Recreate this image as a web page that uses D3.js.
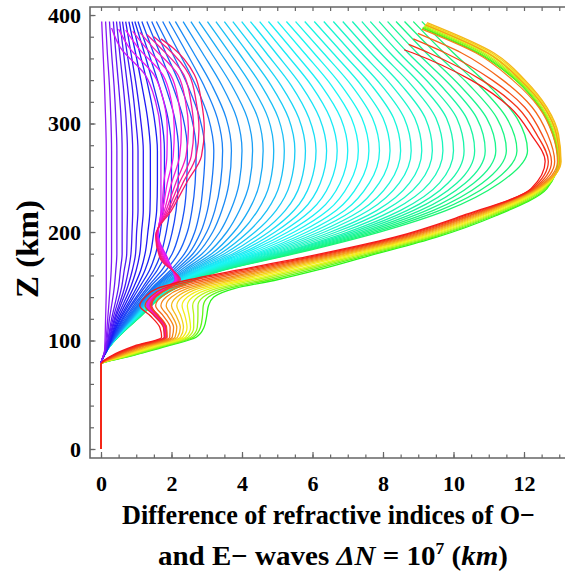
<!DOCTYPE html>
<html>
<head>
<meta charset="utf-8">
<script src="https://cdn.jsdelivr.net/npm/d3@7"></script>
<style>
	body { margin: 0; background: #fff; }
	svg { display: block; }
</style>
</head>
<body>
<svg id="chart" width="565" height="574"></svg>
<script>

// every profile shares the same stem below the E layer
var stemZ = [0, 78];
var stemX = [0, 0];

// night-side profiles (green .. violet), x read at coldZ
var coldZ = [90, 120, 150, 165, 180, 200, 220, 245, 275, 305, 335, 365, 394];
var coldPhase = [0.400, 0.407, 0.414, 0.421, 0.429, 0.436, 0.443, 0.450, 0.456, 0.462,
	0.468, 0.474, 0.480, 0.486, 0.491, 0.496, 0.500, 0.505, 0.509, 0.514,
	0.518, 0.525, 0.533, 0.541, 0.549, 0.557, 0.565, 0.573, 0.581, 0.588,
	0.595, 0.602, 0.612, 0.622, 0.632, 0.640, 0.650, 0.660, 0.670, 0.680,
	0.690, 0.700, 0.710, 0.720, 0.733, 0.747, 0.760];
var coldX = [
	[0.15, 1.05, 2.25, 3.5, 5.5, 7.9, 9.8, 11.3, 12.1, 11.8, 11.0, 10.0, 9.1],
	[0.15, 1.04, 2.24, 3.47, 5.43, 7.77, 9.61, 11.06, 11.8, 11.51, 10.73, 9.74, 8.86],
	[0.15, 1.04, 2.22, 3.44, 5.36, 7.64, 9.43, 10.81, 11.5, 11.23, 10.46, 9.49, 8.61],
	[0.15, 1.03, 2.21, 3.41, 5.29, 7.51, 9.24, 10.57, 11.2, 10.94, 10.18, 9.23, 8.37],
	[0.15, 1.02, 2.19, 3.39, 5.21, 7.39, 9.06, 10.33, 10.9, 10.66, 9.92, 8.97, 8.13],
	[0.15, 1.01, 2.18, 3.36, 5.14, 7.26, 8.87, 10.09, 10.6, 10.37, 9.64, 8.71, 7.89],
	[0.15, 1.01, 2.16, 3.33, 5.07, 7.13, 8.69, 9.84, 10.3, 10.09, 9.37, 8.46, 7.64],
	[0.15, 1.0, 2.15, 3.3, 5.0, 7.0, 8.5, 9.6, 10.0, 9.8, 9.1, 8.2, 7.4],
	[0.15, 0.99, 2.13, 3.26, 4.91, 6.84, 8.28, 9.32, 9.7, 9.5, 8.82, 7.93, 7.13],
	[0.15, 0.99, 2.11, 3.21, 4.82, 6.67, 8.05, 9.03, 9.4, 9.2, 8.53, 7.66, 6.86],
	[0.15, 0.98, 2.08, 3.17, 4.73, 6.51, 7.83, 8.75, 9.1, 8.9, 8.25, 7.39, 6.59],
	[0.15, 0.97, 2.06, 3.12, 4.64, 6.34, 7.6, 8.46, 8.8, 8.6, 7.96, 7.12, 6.32],
	[0.15, 0.96, 2.04, 3.08, 4.55, 6.18, 7.38, 8.18, 8.5, 8.3, 7.68, 6.85, 6.05],
	[0.15, 0.96, 2.02, 3.03, 4.46, 6.01, 7.15, 7.89, 8.2, 8.0, 7.39, 6.58, 5.78],
	[0.15, 0.95, 1.99, 2.99, 4.37, 5.84, 6.92, 7.61, 7.9, 7.7, 7.11, 6.31, 5.52],
	[0.15, 0.94, 1.97, 2.94, 4.26, 5.66, 6.68, 7.33, 7.6, 7.4, 6.82, 6.04, 5.26],
	[0.15, 0.93, 1.95, 2.9, 4.16, 5.48, 6.44, 7.05, 7.3, 7.1, 6.54, 5.77, 5.01],
	[0.15, 0.93, 1.93, 2.85, 4.05, 5.3, 6.2, 6.78, 7.0, 6.8, 6.25, 5.5, 4.75],
	[0.15, 0.92, 1.9, 2.81, 3.95, 5.12, 5.96, 6.5, 6.7, 6.5, 5.97, 5.23, 4.5],
	[0.15, 0.91, 1.88, 2.76, 3.84, 4.94, 5.72, 6.22, 6.4, 6.2, 5.68, 4.96, 4.24],
	[0.15, 0.9, 1.86, 2.72, 3.74, 4.76, 5.48, 5.94, 6.1, 5.9, 5.4, 4.69, 3.99],
	[0.15, 0.89, 1.83, 2.66, 3.62, 4.57, 5.23, 5.66, 5.8, 5.61, 5.11, 4.43, 3.74],
	[0.15, 0.88, 1.8, 2.6, 3.5, 4.37, 4.97, 5.37, 5.5, 5.32, 4.83, 4.17, 3.5],
	[0.15, 0.87, 1.77, 2.54, 3.38, 4.17, 4.71, 5.08, 5.2, 5.03, 4.55, 3.91, 3.26],
	[0.15, 0.86, 1.74, 2.48, 3.26, 3.97, 4.45, 4.79, 4.9, 4.74, 4.27, 3.65, 3.02],
	[0.15, 0.85, 1.71, 2.42, 3.14, 3.77, 4.19, 4.5, 4.6, 4.45, 3.99, 3.39, 2.78],
	[0.15, 0.84, 1.67, 2.35, 3.01, 3.57, 3.93, 4.21, 4.3, 4.15, 3.71, 3.13, 2.55],
	[0.15, 0.82, 1.63, 2.27, 2.87, 3.37, 3.68, 3.92, 4.0, 3.85, 3.43, 2.88, 2.33],
	[0.15, 0.8, 1.59, 2.19, 2.73, 3.17, 3.43, 3.63, 3.7, 3.55, 3.15, 2.63, 2.11],
	[0.15, 0.78, 1.56, 2.12, 2.61, 3.0, 3.23, 3.39, 3.45, 3.3, 2.92, 2.43, 1.93],
	[0.15, 0.76, 1.53, 2.05, 2.49, 2.83, 3.02, 3.14, 3.2, 3.05, 2.69, 2.22, 1.75],
	[0.15, 0.74, 1.49, 1.98, 2.37, 2.66, 2.81, 2.9, 2.95, 2.8, 2.46, 2.02, 1.57],
	[0.15, 0.71, 1.41, 1.85, 2.19, 2.45, 2.58, 2.67, 2.7, 2.57, 2.25, 1.84, 1.44],
	[0.15, 0.67, 1.34, 1.73, 2.02, 2.23, 2.36, 2.43, 2.45, 2.33, 2.03, 1.67, 1.3],
	[0.15, 0.63, 1.26, 1.6, 1.84, 2.02, 2.13, 2.19, 2.2, 2.09, 1.82, 1.49, 1.16],
	[0.15, 0.6, 1.2, 1.5, 1.7, 1.85, 1.95, 2.0, 2.0, 1.9, 1.65, 1.35, 1.05],
	[0.15, 0.56, 1.11, 1.38, 1.55, 1.68, 1.76, 1.8, 1.8, 1.71, 1.49, 1.23, 0.96],
	[0.15, 0.53, 1.03, 1.25, 1.4, 1.5, 1.58, 1.6, 1.6, 1.51, 1.33, 1.1, 0.88],
	[0.15, 0.49, 0.94, 1.13, 1.25, 1.33, 1.39, 1.4, 1.4, 1.32, 1.16, 0.98, 0.79],
	[0.15, 0.45, 0.85, 1.0, 1.1, 1.15, 1.2, 1.2, 1.2, 1.12, 1.0, 0.85, 0.7],
	[0.14, 0.41, 0.76, 0.89, 0.98, 1.01, 1.05, 1.05, 1.05, 0.98, 0.88, 0.74, 0.61],
	[0.13, 0.38, 0.68, 0.78, 0.85, 0.88, 0.9, 0.9, 0.9, 0.85, 0.75, 0.64, 0.53],
	[0.12, 0.34, 0.59, 0.66, 0.73, 0.74, 0.75, 0.75, 0.75, 0.71, 0.63, 0.53, 0.44],
	[0.12, 0.3, 0.5, 0.55, 0.6, 0.6, 0.6, 0.6, 0.6, 0.57, 0.5, 0.42, 0.35],
	[0.11, 0.24, 0.38, 0.42, 0.45, 0.45, 0.45, 0.45, 0.45, 0.42, 0.37, 0.3, 0.24],
	[0.1, 0.19, 0.26, 0.29, 0.3, 0.3, 0.3, 0.3, 0.3, 0.28, 0.24, 0.18, 0.13],
	[0.1, 0.13, 0.15, 0.15, 0.15, 0.15, 0.15, 0.15, 0.15, 0.13, 0.1, 0.06, 0.02]
];

// sunrise profiles (magenta): S below, bulge near 2-3 above
var magentaZ = [86, 95, 103, 112, 123, 132, 140, 148, 156, 175, 197, 220, 245, 270, 295, 320, 345, 370];
var magentaPhase = [0.80, 0.82, 0.84, 0.86, 0.88, 0.90, 0.92, 0.94];
var magentaX = [
	[0.34, 1.03, 1.8, 1.78, 1.5, 1.3, 1.42, 1.8, 2.1, 1.9, 1.62, 1.7, 1.7, 1.7, 1.68, 1.55, 1.25, 0.55],
	[0.35, 1.04, 1.81, 1.79, 1.52, 1.32, 1.44, 1.81, 2.12, 1.87, 1.61, 1.72, 1.78, 1.87, 1.88, 1.78, 1.5, 0.8],
	[0.35, 1.05, 1.82, 1.8, 1.54, 1.34, 1.46, 1.83, 2.14, 1.84, 1.6, 1.75, 1.88, 2.05, 2.08, 2.0, 1.75, 1.05],
	[0.36, 1.06, 1.83, 1.81, 1.55, 1.36, 1.48, 1.84, 2.16, 1.81, 1.59, 1.8, 2.0, 2.23, 2.28, 2.2, 1.97, 1.27],
	[0.36, 1.07, 1.84, 1.82, 1.57, 1.38, 1.5, 1.85, 2.18, 1.78, 1.58, 1.85, 2.12, 2.41, 2.48, 2.4, 2.18, 1.48],
	[0.37, 1.08, 1.85, 1.83, 1.58, 1.4, 1.51, 1.87, 2.2, 1.75, 1.57, 1.9, 2.22, 2.56, 2.63, 2.55, 2.35, 1.68],
	[0.37, 1.09, 1.86, 1.84, 1.6, 1.42, 1.53, 1.88, 2.22, 1.72, 1.56, 1.95, 2.32, 2.7, 2.78, 2.7, 2.5, 1.86],
	[0.38, 1.1, 1.87, 1.85, 1.62, 1.44, 1.55, 1.9, 2.25, 1.69, 1.55, 2.0, 2.42, 2.85, 2.93, 2.85, 2.65, 2.03]
];
var magentaTopZ = [388, 387, 386, 385, 384, 382, 380, 378];
var magentaTopX = [0.3, 0.5, 0.7, 0.9, 1.1, 1.3, 1.5, 1.7];

// day-side profiles (red .. green), the outer band
var warmZ = [86, 95, 103, 112, 123, 132, 140, 148, 156, 165, 178, 195, 215, 240, 265, 290, 315, 340, 365];
var warmPhase = [0.00, 0.02, 0.04, 0.06, 0.08, 0.10, 0.12, 0.14, 0.16, 0.18, 0.21, 0.24, 0.28, 0.32];
var warmX = [
	[0.3, 0.95, 1.72, 1.67, 1.39, 1.1, 1.25, 1.6, 2.5, 3.9, 5.95, 8.3, 10.25, 12.2, 12.6, 12.2, 11.6, 10.5, 8.85],
	[0.35, 1.02, 1.8, 1.77, 1.51, 1.25, 1.4, 1.77, 2.69, 4.07, 6.08, 8.39, 10.32, 12.23, 12.69, 12.36, 11.81, 10.8, 9.31],
	[0.39, 1.1, 1.87, 1.86, 1.64, 1.4, 1.55, 1.94, 2.88, 4.25, 6.2, 8.48, 10.4, 12.27, 12.78, 12.51, 12.02, 11.1, 9.77],
	[0.44, 1.17, 1.95, 1.96, 1.76, 1.55, 1.7, 2.11, 3.08, 4.42, 6.33, 8.58, 10.47, 12.3, 12.87, 12.67, 12.23, 11.4, 10.23],
	[0.48, 1.24, 2.02, 2.06, 1.89, 1.7, 1.85, 2.28, 3.27, 4.59, 6.46, 8.67, 10.54, 12.34, 12.95, 12.81, 12.42, 11.68, 10.64],
	[0.53, 1.32, 2.1, 2.15, 2.01, 1.85, 2.0, 2.45, 3.46, 4.77, 6.59, 8.76, 10.62, 12.37, 13.01, 12.92, 12.57, 11.9, 10.97],
	[0.58, 1.39, 2.17, 2.25, 2.13, 2.0, 2.15, 2.62, 3.65, 4.94, 6.71, 8.85, 10.69, 12.41, 13.05, 12.98, 12.65, 12.03, 11.15],
	[0.62, 1.46, 2.25, 2.34, 2.26, 2.15, 2.3, 2.78, 3.85, 5.11, 6.84, 8.95, 10.76, 12.44, 13.04, 12.96, 12.62, 11.99, 11.08],
	[0.67, 1.53, 2.32, 2.44, 2.38, 2.3, 2.45, 2.95, 4.04, 5.28, 6.97, 9.04, 10.83, 12.48, 13.02, 12.93, 12.59, 11.95, 11.01],
	[0.72, 1.61, 2.4, 2.54, 2.5, 2.45, 2.6, 3.12, 4.23, 5.46, 7.09, 9.13, 10.91, 12.51, 13.01, 12.91, 12.56, 11.91, 10.94],
	[0.76, 1.68, 2.47, 2.63, 2.63, 2.6, 2.75, 3.29, 4.42, 5.63, 7.22, 9.22, 10.98, 12.55, 13.0, 12.89, 12.52, 11.87, 10.87],
	[0.81, 1.75, 2.55, 2.73, 2.75, 2.75, 2.9, 3.46, 4.62, 5.8, 7.35, 9.32, 11.05, 12.58, 12.98, 12.86, 12.49, 11.83, 10.81],
	[0.85, 1.83, 2.62, 2.82, 2.88, 2.9, 3.05, 3.63, 4.81, 5.98, 7.47, 9.41, 11.13, 12.62, 12.97, 12.84, 12.46, 11.79, 10.74],
	[0.9, 1.9, 2.7, 2.92, 3.0, 3.05, 3.2, 3.8, 5.0, 6.15, 7.6, 9.5, 11.2, 12.65, 12.96, 12.82, 12.44, 11.76, 10.69]
];
// upper ends sit on the slanted edge from (8.6, 368) to (9.25, 393)
var warmTopZ = [368, 373, 378, 383, 387, 391, 393, 392, 391.5, 391, 390, 389, 388.5, 388];
var warmTopX = [8.6, 8.73, 8.86, 8.99, 9.1, 9.2, 9.25, 9.23, 9.21, 9.19, 9.17, 9.15, 9.13, 9.12];

var xTicks = [0, 2, 4, 6, 8, 10, 12];
var yTicks = [0, 100, 200, 300, 400];


function BuildProfiles(aZ, aRows, aPhase, aTopZ, aTopX)
{
	return aRows.map(function(aRow, i)
		{
			var aPoints = [];
			stemZ.forEach(function(z, k) { aPoints.push([stemX[k], z]); });
			aRow.forEach(function(x, k) { aPoints.push([x, aZ[k]]); });
			if (aTopZ != null)
			{
				aPoints.push([aTopX[i], aTopZ[i]]);
			}
			// top first, so screen y grows along the path
			aPoints.reverse();
			return {phase: aPhase[i], points: aPoints};
		});
}


var sSvg = d3.select('#chart');
const strFont = '"Liberation Serif", "Times New Roman", serif';

var nFrameLeft = 90;
var nFrameRight = 566.3;
var nFrameTop = 7;
var nFrameBottom = 458;

var scaleX = d3.scaleLinear()
	.domain([-0.312, 13.2])
	.range([nFrameLeft, nFrameRight]);

var scaleY = d3.scaleLinear()
	.domain([-8.3, 407.4])
	.range([nFrameBottom, nFrameTop]);

var scaleHue = d3.scaleLinear()
	.domain([0, 1])
	.range([0, 360]);

var lineProfile = d3.line()
	.x(function(p) { return scaleX(p[0]); })
	.y(function(p) { return scaleY(p[1]); })
	.curve(d3.curveMonotoneY);

var aCold = BuildProfiles(coldZ, coldX, coldPhase, null, null);
var aMagenta = BuildProfiles(magentaZ, magentaX, magentaPhase, magentaTopZ, magentaTopX);
var aWarm = BuildProfiles(warmZ, warmX, warmPhase, warmTopZ, warmTopX).reverse();

var aProfiles = aCold.concat(aMagenta).concat(aWarm);

sSvg.append('rect')
	.attr('width', 565)
	.attr('height', 574)
	.attr('fill', '#fff');

sSvg.append('g')
	.attr('class', 'profiles')
	.selectAll('path')
	.data(aProfiles)
	.enter()
		.append('path')
			.attr('d', function(row) { return lineProfile(row.points); })
			.attr('fill', 'none')
			.attr('stroke', function(row) { return d3.hsl(scaleHue(row.phase), 0.92, 0.53).toString(); })
			.attr('stroke-width', 1.3)
			.attr('stroke-linejoin', 'round');


// frame and ticks
var aMinorX = d3.range(0, 13.01, 0.5);
var aMinorY = d3.range(0, 401, 20);

function StyleAxis(sAxis)
{
	sAxis.select('.domain').remove();
	sAxis.selectAll('line').attr('stroke', '#666').attr('stroke-width', 1.2);
	sAxis.attr('font-family', strFont)
		.attr('font-size', 22)
		.attr('font-weight', 'bold')
		.selectAll('text').attr('fill', '#000');
}

sSvg.append('g')
	.attr('transform', 'translate(0,' + nFrameBottom + ')')
	.call(d3.axisBottom(scaleX).tickValues(aMinorX).tickSize(-3.5).tickFormat(''))
	.call(StyleAxis);

sSvg.append('g')
	.attr('transform', 'translate(0,' + nFrameBottom + ')')
	.call(d3.axisBottom(scaleX).tickValues(xTicks).tickSize(-6).tickPadding(17).tickFormat(d3.format('d')))
	.call(StyleAxis);

sSvg.append('g')
	.attr('transform', 'translate(0,' + nFrameTop + ')')
	.call(d3.axisTop(scaleX).tickValues(aMinorX).tickSize(-4).tickFormat(''))
	.call(StyleAxis);

sSvg.append('g')
	.attr('transform', 'translate(' + nFrameLeft + ',0)')
	.call(d3.axisLeft(scaleY).tickValues(aMinorY).tickSize(-4).tickFormat(''))
	.call(StyleAxis);

sSvg.append('g')
	.attr('transform', 'translate(' + nFrameLeft + ',0)')
	.call(d3.axisLeft(scaleY).tickValues(yTicks).tickSize(-5.5).tickPadding(9).tickFormat(d3.format('d')))
	.call(StyleAxis);

sSvg.append('path')
	.attr('d', 'M' + nFrameRight + ',' + nFrameTop + 'H' + nFrameLeft + 'V' + nFrameBottom + 'H' + nFrameRight)
	.attr('fill', 'none')
	.attr('stroke', '#666')
	.attr('stroke-width', 1.6);


// axis titles
sSvg.append('text')
	.attr('transform', 'translate(38,249) rotate(-90)')
	.attr('text-anchor', 'middle')
	.attr('font-family', strFont)
	.attr('font-weight', 'bold')
	.attr('font-size', 32)
	.attr('textLength', 98)
	.attr('lengthAdjust', 'spacingAndGlyphs')
	.text('Z (km)');

sSvg.append('text')
	.attr('x', 328.5)
	.attr('y', 524)
	.attr('text-anchor', 'middle')
	.attr('font-family', strFont)
	.attr('font-weight', 'bold')
	.attr('font-size', 28)
	.attr('textLength', 413)
	.attr('lengthAdjust', 'spacingAndGlyphs')
	.text('Difference of refractive indices of O\u2212');

var sLine2 = sSvg.append('text')
	.attr('x', 333)
	.attr('y', 565)
	.attr('text-anchor', 'middle')
	.attr('font-family', strFont)
	.attr('font-weight', 'bold')
	.attr('font-size', 28)
	.attr('textLength', 350)
	.attr('lengthAdjust', 'spacingAndGlyphs');

sLine2.append('tspan').text('and E\u2212 waves ');
sLine2.append('tspan').attr('font-style', 'italic').text('\u0394N');
sLine2.append('tspan').text(' = 10');
sLine2.append('tspan').attr('font-size', 17).attr('dy', -11).text('7');
sLine2.append('tspan').attr('dy', 11).text(' (');
sLine2.append('tspan').attr('font-style', 'italic').text('km');
sLine2.append('tspan').text(')');

</script>
</body>
</html>
